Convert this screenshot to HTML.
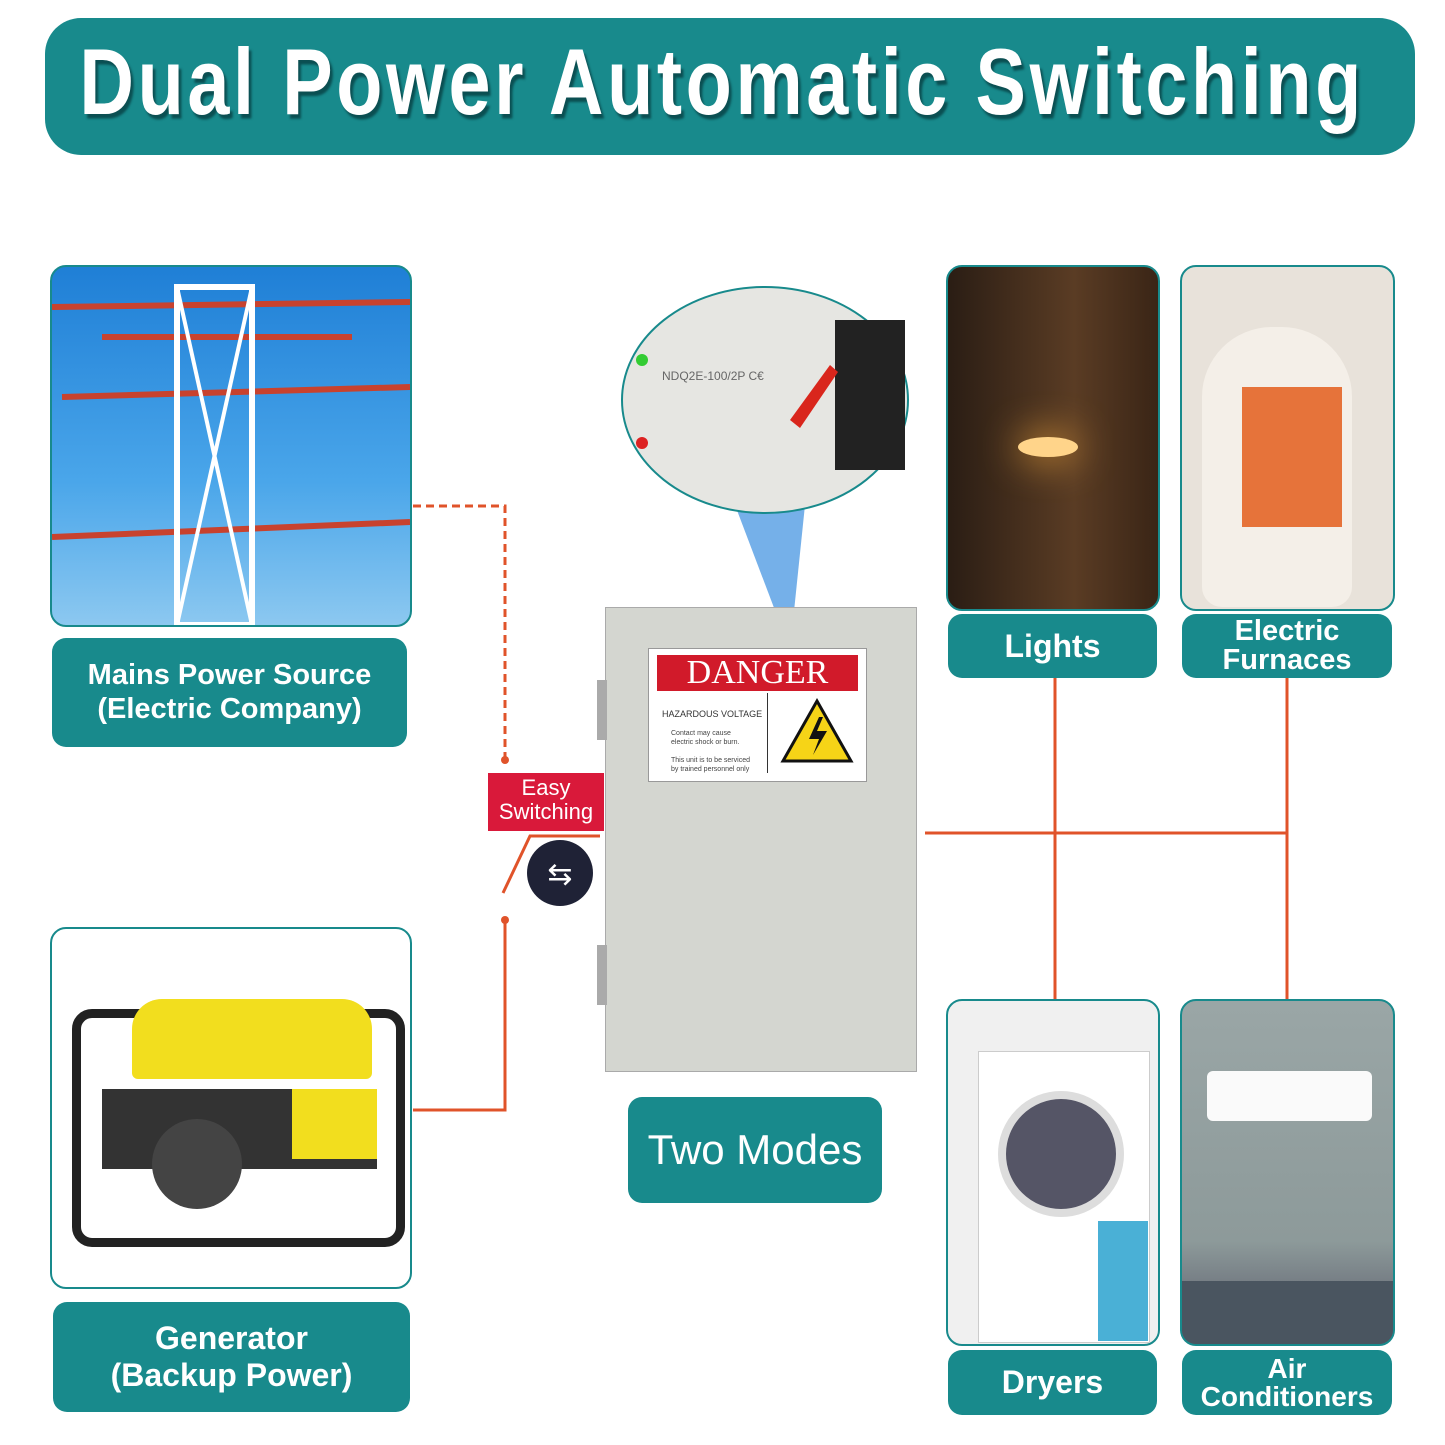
<!DOCTYPE html>
<html><head><meta charset="utf-8"><style>
body{margin:0;width:1445px;height:1445px;background:#fff;position:relative;overflow:hidden;font-family:"Liberation Sans",sans-serif}
.a{position:absolute}
.lbl{position:absolute;background:#188a8c;border-radius:14px;color:#fff;font-weight:bold;text-align:center;display:flex;align-items:center;justify-content:center;line-height:1.15}
.ph{position:absolute;border:2px solid #188a8c;border-radius:16px;overflow:hidden}
</style></head><body>
<div class="a" style="left:45px;top:18px;width:1370px;height:137px;border-radius:36px;background:#188a8c"></div>
<div class="a" style="left:0;top:28px;width:1445px;text-align:center;white-space:nowrap"><span style="display:inline-block;color:#fff;font-weight:bold;font-size:84px;letter-spacing:4px;text-shadow:3px 4px 2px #0b4f52;transform:scale(0.9,1.12);transform-origin:center top">Dual Power Automatic Switching</span></div>

<div class="ph" style="left:50px;top:265px;width:358px;height:358px;background:linear-gradient(180deg,#1f7fd6,#4aa6ea 60%,#8cc8f0)">
<svg width="358" height="358" class="a" style="left:0;top:0"><g stroke="#c8422e" stroke-width="6" fill="none"><line x1="0" y1="40" x2="358" y2="35"/><line x1="10" y1="130" x2="358" y2="120"/><line x1="0" y1="270" x2="358" y2="255"/><line x1="50" y1="70" x2="300" y2="70"/></g><rect x="125" y="20" width="75" height="338" fill="none" stroke="#fff" stroke-width="6"/><line x1="125" y1="20" x2="200" y2="358" stroke="#fff" stroke-width="4"/><line x1="200" y1="20" x2="125" y2="358" stroke="#fff" stroke-width="4"/></svg></div>
<div class="lbl" style="left:52px;top:638px;width:355px;height:109px;font-size:29px">Mains Power Source<br>(Electric Company)</div>

<div class="ph" style="left:50px;top:927px;width:358px;height:358px;background:#fff">
<div class="a" style="left:20px;top:80px;width:315px;height:220px;border:9px solid #222;border-radius:20px"></div>
<div class="a" style="left:80px;top:70px;width:240px;height:80px;background:#f2de1e;border-radius:30px 30px 6px 6px"></div>
<div class="a" style="left:50px;top:160px;width:275px;height:80px;background:#333"></div>
<div class="a" style="left:240px;top:160px;width:85px;height:70px;background:#f2de1e"></div>
<div class="a" style="left:100px;top:190px;width:90px;height:90px;background:#444;border-radius:50%"></div></div>
<div class="lbl" style="left:53px;top:1302px;width:357px;height:110px;font-size:32px">Generator<br>(Backup Power)</div>

<svg class="a" style="left:0;top:0" width="1445" height="1445">
<g stroke="#e0532a" stroke-width="3" fill="none">
<path d="M413 506H505V760" stroke-dasharray="8 5"/>
<path d="M413 1110H505V920"/>
<path d="M503 893L530 836H600"/>
<path d="M925 833H1287M1055 678V999M1287 678V999"/>
</g>
<circle cx="505" cy="760" r="4" fill="#e0532a"/><circle cx="505" cy="920" r="4" fill="#e0532a"/>
<polygon points="735,505 805,505 790,650" fill="#3b8ee0" opacity="0.7"/>
<ellipse cx="765" cy="400" rx="143" ry="113" fill="#e6e6e2" stroke="#188a8c" stroke-width="2"/>
<rect x="835" y="320" width="70" height="150" fill="#222"/>
<polygon points="790,420 830,365 838,372 800,428" fill="#d9261c"/>
<circle cx="642" cy="360" r="6" fill="#3c3"/><circle cx="642" cy="443" r="6" fill="#d22"/>
<text x="662" y="380" font-size="12" fill="#666">NDQ2E-100/2P  C€</text>
<circle cx="560" cy="873" r="33" fill="#1f2236"/>
<text x="560" y="884" font-size="30" fill="#fff" text-anchor="middle">⇆</text>
</svg>
<div class="a" style="left:488px;top:773px;width:116px;height:55px;background:#d9193a;color:#fff;font-size:22px;text-align:center;line-height:24px;padding-top:3px">Easy<br>Switching</div>

<div class="a" style="left:605px;top:607px;width:310px;height:463px;background:#d4d6d0;border:1px solid #aaa"></div>
<div class="a" style="left:597px;top:680px;width:10px;height:60px;background:#aaa"></div>
<div class="a" style="left:597px;top:945px;width:10px;height:60px;background:#aaa"></div>
<div class="a" style="left:648px;top:648px;width:217px;height:132px;background:#fff;border:1px solid #999">
<div class="a" style="left:8px;top:6px;width:201px;height:36px;background:#d11a2a;color:#fff;font-family:'Liberation Serif',serif;font-size:34px;text-align:center;line-height:36px">DANGER</div>
<div class="a" style="left:13px;top:60px;font-size:9px;color:#333">HAZARDOUS VOLTAGE</div>
<div class="a" style="left:22px;top:80px;font-size:7px;color:#444;line-height:9px">Contact may cause<br>electric shock or burn.<br><br>This unit is to be serviced<br>by trained personnel only</div>
<div class="a" style="left:118px;top:44px;width:1px;height:80px;background:#333"></div>
<svg class="a" style="left:130px;top:48px" width="76" height="70"><polygon points="38,4 72,64 4,64" fill="#f6d417" stroke="#111" stroke-width="3"/><path d="M40 20L30 42H40L34 58L48 34H38L44 20Z" fill="#111"/></svg></div>
<div class="lbl" style="left:628px;top:1097px;width:254px;height:106px;font-size:42px;font-weight:normal">Two Modes</div>

<div class="ph" style="left:946px;top:265px;width:210px;height:342px;background:linear-gradient(90deg,#2a1d14,#5a3c24 60%,#3a2516)"><div class="a" style="left:70px;top:170px;width:60px;height:20px;background:#ffd48a;border-radius:50%;box-shadow:0 0 40px #ffb040"></div></div>
<div class="lbl" style="left:948px;top:614px;width:209px;height:64px;font-size:32px">Lights</div>
<div class="ph" style="left:1180px;top:265px;width:211px;height:342px;background:#e8e2da"><div class="a" style="left:20px;top:60px;width:150px;height:280px;background:#f4efe8;border-radius:70px 70px 20px 20px"></div><div class="a" style="left:60px;top:120px;width:100px;height:140px;background:#e6733a"></div></div>
<div class="lbl" style="left:1182px;top:614px;width:210px;height:64px;font-size:29px;line-height:1.0">Electric<br>Furnaces</div>

<div class="ph" style="left:946px;top:999px;width:210px;height:343px;background:#f0f0f0"><div class="a" style="left:30px;top:50px;width:170px;height:290px;background:#fff;border:1px solid #ccc"></div><div class="a" style="left:50px;top:90px;width:110px;height:110px;border-radius:50%;background:#556;border:8px solid #ddd"></div><div class="a" style="left:150px;top:220px;width:50px;height:120px;background:#4ab0d6"></div></div>
<div class="lbl" style="left:948px;top:1350px;width:209px;height:65px;font-size:32px">Dryers</div>
<div class="ph" style="left:1180px;top:999px;width:211px;height:343px;background:linear-gradient(180deg,#9aa6a6,#8d9a9a 70%,#556)"><div class="a" style="left:25px;top:70px;width:165px;height:50px;background:#fafafa;border-radius:6px"></div><div class="a" style="left:0;top:280px;width:211px;height:63px;background:#4a5560"></div></div>
<div class="lbl" style="left:1182px;top:1350px;width:210px;height:65px;font-size:28px;line-height:1.0">Air<br>Conditioners</div>
</body></html>
